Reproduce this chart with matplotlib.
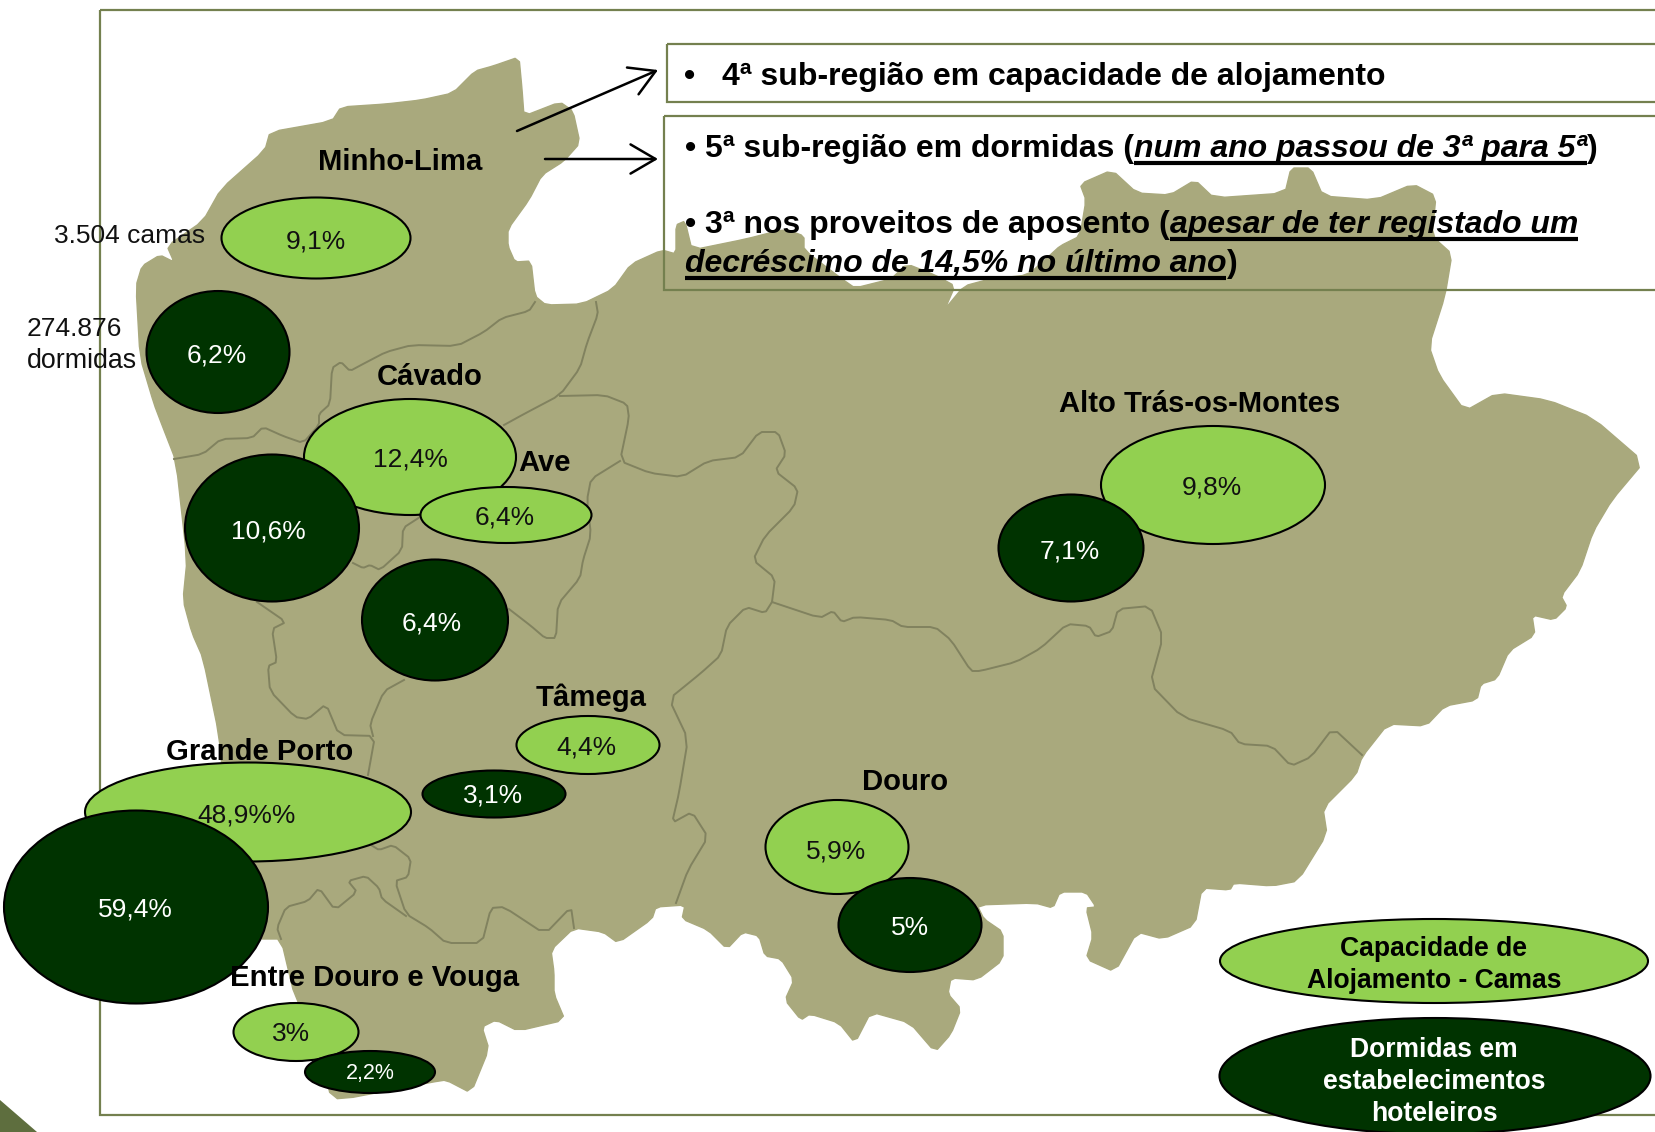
import matplotlib
matplotlib.use("Agg")
import matplotlib.pyplot as plt
from matplotlib.patches import Ellipse, Polygon, Rectangle, FancyArrowPatch

plt.rcParams['font.family'] = ['Liberation Sans', 'DejaVu Sans']

W, H = 1656, 1132
MAP = '#A9A97D'; BORDER = '#81825F'; FRAME = '#74804F'
LIGHT = '#92D050'; DARK = '#003300'

# ---- data -------------------------------------------------------------
regions = ['Minho-Lima', 'Cávado', 'Ave', 'Grande Porto', 'Tâmega',
           'Entre Douro e Vouga', 'Douro', 'Alto Trás-os-Montes']
camas_labels = ['9,1%', '12,4%', '6,4%', '48,9%%', '4,4%', '3%', '5,9%', '9,8%']
dormidas_labels = ['6,2%', '10,6%', '6,4%', '59,4%', '3,1%', '2,2%', '5%', '7,1%']
legend_camas = ['Capacidade de', 'Alojamento - Camas']
legend_dormidas = ['Dormidas em', 'estabelecimentos', 'hoteleiros']

# ---- layout (reference pixels) ----------------------------------------
region_xy = [(400, 160), (430, 375), (545, 461), (260, 750), (591, 696),
             (375, 976), (905, 780), (1200, 402)]
camas_shape = [(316, 238, 189, 81), (410, 457, 212, 116), (506, 515, 171, 56),
               (248, 812, 326, 99), (588, 745, 143, 58), (296, 1032, 125, 58),
               (837, 847, 143, 94), (1213, 485, 224, 118)]
camas_text = [(316, 240), (410, 458), (505, 516), (247, 814), (586, 746),
              (291, 1032), (836, 849), (1212, 486)]
dorm_shape = [(218, 352, 143, 122), (272, 528, 174, 147), (435, 620, 146, 121),
              (136, 907, 264, 193), (494, 794, 143, 47), (370, 1072, 130, 42),
              (910, 925, 143, 94), (1071, 548, 145, 107)]
dorm_text = [(217, 355), (268, 530), (432, 622), (135, 909), (493, 795),
             (370, 1073), (910, 927), (1070, 550)]

outline = [(519,57),(522,89),(524,116),(560,102),(573,111),(580,143),(564,161),(542,175),
 (529,200),(508,229),(508,246),(515,262),(531,261),(535,296),(546,305),(582,304),(613,289),
 (631,264),(662,250),(676,254),(676,225),(685,221),(692,250),(746,239),(785,229),(804,236),
 (804,250),(842,279),(855,288),(891,279),(907,264),(935,275),(955,286),(945,309),(964,286),
 (990,279),(1028,275),(1048,257),(1060,246),(1080,236),(1086,200),(1080,184),(1112,170),
 (1137,193),(1170,195),(1195,180),(1214,198),(1285,193),(1291,168),(1311,168),(1323,196),
 (1375,200),(1413,184),(1436,196),(1432,236),(1452,254),(1445,296),(1429,346),(1439,375),
 (1465,411),(1497,393),(1548,400),(1593,418),(1644,462),(1612,500),(1593,532),(1580,571),
 (1561,596),(1567,607),(1554,620),(1532,615),(1535,635),(1509,651),(1497,679),(1481,684),
 (1477,700),(1445,706),(1426,726),(1388,724),(1362,757),(1356,775),(1323,808),(1327,834),
 (1298,881),(1272,886),(1234,883),(1230,890),(1202,888),(1195,925),(1163,939),(1137,932),
 (1115,972),(1086,959),(1093,936),(1086,908),(1096,907),(1086,892),(1060,892),(1053,908),
 (1035,903),(977,905),(984,919),(1003,932),(1003,960),(977,980),(951,978),(948,994),
 (961,1009),(951,1034),(935,1052),(910,1023),(871,1012),(855,1043),(839,1023),(810,1014),
 (801,1020),(785,1000),(794,980),(781,959),(765,956),(759,936),(743,932),(727,949),
 (708,930),(682,919),(685,905),(656,907),(652,919),(618,943),(603,932),(574,928),(551,950),
 (554,972),(554,994),(565,1020),(518,1031),(496,1020),(482,1027),(489,1049),(471,1093),
 (446,1080),(433,1082),(339,1100),(328,1091),(330,1060),(295,998),(281,939),(259,939),
 (225,800),(219,735),(203,658),(192,633),(183,600),(187,560),(176,461),(162,425),(154,404),
 (140,357),(136,286),(142,266),(160,255),(174,262),(167,246),(203,221),(221,189),(265,150),
 (270,132),(332,121),(341,107),(386,104),(421,100),(453,93),(475,71),(493,66)]

borders = [
 [(535,302),(529,311),(502,318),(484,332),(457,346),(412,345),(386,352),(363,364),(350,371),
  (341,362),(332,368),(330,404),(319,414),(319,425),(303,443),(283,436),(263,427),(252,438),
  (221,439),(203,454),(174,459)],
 [(596,302),(598,314),(587,343),(580,368),(560,395),(524,414),(504,425)],
 [(560,396),(604,395),(627,404),(629,418),(620,461),(650,473),(682,477),(708,461),(740,457),
  (759,432),(778,432),(786,454),(775,471),(798,489),(794,507),(765,536),(753,560),(775,578),
  (772,602)],
 [(772,602),(765,613),(746,607),(727,626),(721,655),(701,673),(669,699),(688,739),(679,793),
  (672,823),(692,812),(708,837),(688,870),(676,903)],
 [(772,602),(820,618),(833,611),(842,622),(855,617),(891,620),(903,627),(935,627),(951,640),
  (971,671),(980,671),(1016,662),(1041,648),(1067,624),(1089,626),(1096,637),(1112,631),
  (1118,609),(1150,606),(1163,637),(1150,684),(1182,717),(1230,731),(1240,744),(1272,746),
  (1291,766),(1311,757),(1333,728),(1362,755)],
 [(620,461),(591,479),(587,500),(591,535),(583,560),(580,578),(558,604),(556,638),(545,638),
  (531,626),(509,609)],
 [(257,602),(286,622),(272,629),(277,662),(268,666),(270,691),(295,717),(308,719),(326,704),
  (339,735),(375,736),(368,775)],
 [(404,680),(384,691),(370,724),(373,736)],
 [(420,517),(403,528),(402,550),(380,570),(370,565),(363,568),(353,563)],
 [(371,845),(379,850),(393,845),(411,859),(408,877),(395,881),(406,914),(429,928),(446,943),
  (482,943),(491,908),(504,907),(545,934),(571,907),(574,928)],
 [(281,939),(277,928),(286,907),(308,901),(319,888),(335,910),(357,892),(348,881),(366,876),
  (379,888),(382,899),(406,916)],
]


def round_corners(pts, closed, k=0.15):
    """Cut the corners of a traced line a little."""
    out = [] if closed else [pts[0]]
    n = len(pts)
    for i in range(n if closed else n - 1):
        a, b = pts[i], pts[(i + 1) % n]
        out.append(((1 - k) * a[0] + k * b[0], (1 - k) * a[1] + k * b[1]))
        out.append((k * a[0] + (1 - k) * b[0], k * a[1] + (1 - k) * b[1]))
    if not closed:
        out.append(pts[-1])
    return out


fig = plt.figure(figsize=(W/100, H/100), dpi=100)
ax = fig.add_axes([0, 0, 1, 1])
ax.set_xlim(0, W); ax.set_ylim(H, 0); ax.axis('off')

# corner decoration
ax.add_patch(Polygon([(0, 1100), (37, 1132), (0, 1132)], closed=True, fc='#5E6E3E', ec='none', zorder=1))

# map
ax.add_patch(Polygon(round_corners(outline, True), closed=True, fc=MAP, ec=MAP, lw=1.0, joinstyle='round', zorder=2))
for b in borders:
    ax.plot(*zip(*round_corners(b, False)), color=BORDER, lw=1.4, solid_joinstyle='round', zorder=3)

# frames
ax.add_patch(Rectangle((100, 10), 1570, 1105, fc='none', ec=FRAME, lw=1.6, zorder=4, clip_on=True))
ax.add_patch(Rectangle((667, 44), 1000, 58, fc='none', ec=FRAME, lw=1.6, zorder=4))
ax.add_patch(Rectangle((664, 116), 1000, 174, fc='none', ec=FRAME, lw=1.6, zorder=4))

# arrows
for p0, p1 in [((517, 131), (658, 70)), ((545, 159), (658, 159))]:
    ax.add_patch(FancyArrowPatch(p0, p1, arrowstyle='->,head_length=12,head_width=7',
                                 mutation_scale=1.5, lw=1.8, color='black',
                                 shrinkA=0, shrinkB=0, zorder=6))


def bubble(shape, fc, z):
    x, y, w, h = shape
    ax.add_patch(Ellipse((x, y), w, h, fc=fc, ec='black', lw=1.5, zorder=z))


# bubbles: capacity first, overnight stays on top
for s in camas_shape:
    bubble(s, LIGHT, 7)
for s in dorm_shape:
    bubble(s, DARK, 8)
for lab, (x, y) in zip(camas_labels, camas_text):
    ax.text(x, y + 2, lab, color='#111111', fontsize=19, ha='center', va='center', zorder=9)
for lab, (x, y) in zip(dormidas_labels, dorm_text):
    ax.text(x, y + 1, lab, color='white', fontsize=15.5 if lab == '2,2%' else 19,
            ha='center', va='center', zorder=9)
for lab, (x, y) in zip(regions, region_xy):
    ax.text(x, y + 2, lab, color='black', fontsize=21.1, fontweight='bold', ha='center', va='center', zorder=10)

# side notes
ax.text(54, 236, '3.504 camas', fontsize=19, va='center', ha='left', color='#111111', zorder=5)
ax.text(27, 329, '274.876', fontsize=19, va='center', ha='left', color='#111111', zorder=5)
ax.text(27, 361, 'dormidas', fontsize=19.3, va='center', ha='left', color='#111111', zorder=5)

# legend
bubble((1434, 961, 428, 84), LIGHT, 7)
bubble((1435, 1076, 431, 116), DARK, 7)
for lab, y in zip(legend_camas, [949, 981]):
    ax.text(1434, y, lab, fontsize=19.1, fontweight='bold', color='black', ha='center', va='center', zorder=9)
for lab, y in zip(legend_dormidas, [1050, 1082, 1114]):
    ax.text(1434, y, lab, fontsize=19.1, fontweight='bold', color='white', ha='center', va='center', zorder=9)

# annotation boxes with mixed-style runs
fig.canvas.draw()
rend = fig.canvas.get_renderer()
SIZE = 23.0


def advance(txt, fp):
    w = lambda s: rend.get_text_width_height_descent(s, fp, False)[0]
    return w('|' + txt + '|') - w('||')


def runs(x, y, parts):
    for txt, ital in parts:
        t = ax.text(x, y, txt, fontsize=SIZE, fontweight='bold', color='black',
                    fontstyle='italic' if ital else 'normal', ha='left', va='baseline', zorder=10)
        adv = advance(txt, t.get_fontproperties())
        if ital:
            ax.plot([x, x + adv], [y + 6, y + 6], color='black', lw=3.0, solid_capstyle='butt', zorder=10)
        x += adv


ax.text(684, 85, '•', fontsize=SIZE, fontweight='bold', va='baseline', zorder=10)
runs(722, 85, [('4ª sub-região em capacidade de alojamento', False)])
runs(685, 157, [('• 5ª sub-região em dormidas (', False), ('num ano passou de 3ª para 5ª', True), (')', False)])
runs(685, 233, [('• 3ª nos proveitos de aposento (', False), ('apesar de ter registado um', True)])
runs(685, 272, [('decréscimo de 14,5% no último ano', True), (')', False)])

fig.savefig('out.png', dpi=100)
